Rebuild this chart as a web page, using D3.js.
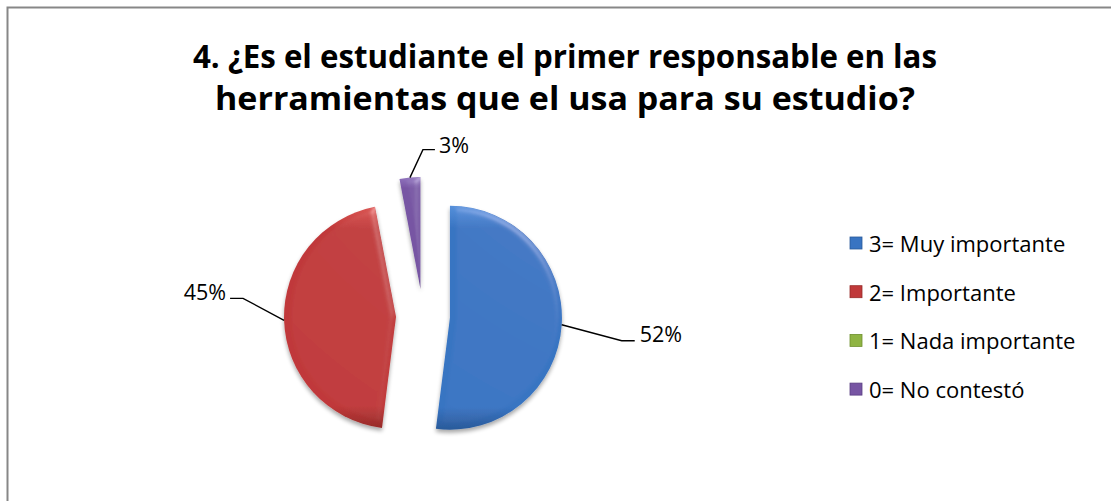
<!DOCTYPE html>
<html>
<head>
<meta charset="utf-8">
<script src="https://cdn.jsdelivr.net/npm/d3@7/dist/d3.min.js"></script>
<style>
  html, body { margin: 0; padding: 0; background: #fff; }
  svg { display: block; }
</style>
</head>
<body>
<svg id="chart" width="1111" height="501"></svg>
<script>
// ---- data ----
const titleLines = ["4. ¿Es el estudiante el primer responsable en las", "herramientas que el usa para su estudio?"];
const categories = ["3= Muy importante", "2= Importante", "1= Nada importante", "0= No contestó"];
const values = [52, 45, 0, 3];
const valueLabels = ["52%", "45%", "0%", "3%"];

// ---- styles ----
const baseColors = ["#3874C2", "#C0393A", "#8FB443", "#7755A3"];
const lightColors = ["#5690DA", "#D9524F", "#A9CB5E", "#9073BD"];
const darkColors = ["#2A5A9A", "#972B29", "#6E902E", "#5A3F82"];

const svg = d3.select("#chart");
const font = "'Open Sans', 'Liberation Sans', sans-serif";

// frame
svg.append("rect").attr("x", 7.5).attr("y", 7.5).attr("width", 1200).attr("height", 700)
  .attr("fill", "#fff").attr("stroke", "#878787").attr("stroke-width", 2);

const defs = svg.append("defs");
const f = defs.append("filter").attr("id", "bevel").attr("x", "-20%").attr("y", "-20%").attr("width", "140%").attr("height", "140%");
f.append("feGaussianBlur").attr("in", "SourceAlpha").attr("stdDeviation", 3).attr("result", "blur");
const spec = f.append("feSpecularLighting").attr("in", "blur").attr("surfaceScale", 3)
  .attr("specularConstant", 0.5).attr("specularExponent", 20).attr("lighting-color", "#ffffff").attr("result", "spec");
spec.append("fePointLight").attr("x", 300).attr("y", -400).attr("z", 300);
f.append("feComposite").attr("in", "spec").attr("in2", "SourceAlpha").attr("operator", "in").attr("result", "specOut");
f.append("feComposite").attr("in", "SourceGraphic").attr("in2", "specOut").attr("operator", "arithmetic")
  .attr("k1", 0).attr("k2", 1).attr("k3", 0.35).attr("k4", 0).attr("result", "lit");
f.append("feGaussianBlur").attr("in", "SourceAlpha").attr("stdDeviation", 2.2).attr("result", "sblur");
f.append("feOffset").attr("in", "sblur").attr("dx", 0).attr("dy", 3).attr("result", "soff");
f.append("feComponentTransfer").attr("in", "soff").attr("result", "sfade")
  .append("feFuncA").attr("type", "linear").attr("slope", 0.35);
const merge = f.append("feMerge");
merge.append("feMergeNode").attr("in", "sfade");
merge.append("feMergeNode").attr("in", "lit");

baseColors.forEach((c, i) => {
  const g = defs.append("linearGradient").attr("id", "grad" + i)
    .attr("x1", 0).attr("y1", 0).attr("x2", 0).attr("y2", 1);
  g.append("stop").attr("offset", "0%").attr("stop-color", lightColors[i]);
  g.append("stop").attr("offset", "10%").attr("stop-color", baseColors[i]);
  g.append("stop").attr("offset", "90%").attr("stop-color", baseColors[i]);
  g.append("stop").attr("offset", "100%").attr("stop-color", darkColors[i]);
});

// title
const title = svg.append("g").attr("font-family", font).attr("font-weight", "bold").attr("fill", "#000");
const titleY = [68, 110];
const titleW = [744, 700];
titleLines.forEach((t, i) => {
  const el = title.append("text").attr("x", 565).attr("y", titleY[i]).attr("text-anchor", "middle")
    .attr("font-size", 32).text(t);
  const w = el.node().getComputedTextLength();
  if (Math.abs(w - titleW[i]) > 2) el.attr("textLength", titleW[i]).attr("lengthAdjust", "spacingAndGlyphs");
});

// pie
const cx = 423, cy = 316, r = 112, explode = 27;
const pie = d3.pie().sort(null).value(d => d).startAngle(0).endAngle(2 * Math.PI);
const arcs = pie(values);
const arcGen = d3.arc().innerRadius(0).outerRadius(r);

const pieG = svg.append("g").attr("transform", `translate(${cx},${cy})`);
arcs.forEach((a, i) => {
  if (a.value <= 0) return;
  const mid = (a.startAngle + a.endAngle) / 2;
  const ox = Math.sin(mid) * explode, oy = -Math.cos(mid) * explode;
  pieG.append("path").attr("d", arcGen(a)).attr("transform", `translate(${ox},${oy})`)
    .attr("fill", `url(#grad${i})`).attr("filter", "url(#bevel)");
});

// leader lines and labels
const leader = [
  { ex: 60, ey: 16, hx: 13, tx: 5, ty: -7, anchor: "start" },
  { ex: -41, ey: -22, hx: -13, tx: -4, ty: -7, anchor: "end" },
  null,
  { ex: 13, ey: -28, hx: 12, tx: 4, ty: -5, anchor: "start" }
];
const labG = svg.append("g").attr("font-family", font).attr("font-size", 21.5);
arcs.forEach((a, i) => {
  if (a.value <= 0 || !leader[i]) return;
  const L = leader[i];
  const mid = (a.startAngle + a.endAngle) / 2;
  const px = cx + Math.sin(mid) * (r + explode), py = cy - Math.cos(mid) * (r + explode);
  const ex = px + L.ex, ey = py + L.ey;
  const hx = ex + L.hx;
  labG.append("polyline").attr("points", `${px},${py} ${ex},${ey} ${hx},${ey}`)
    .attr("fill", "none").attr("stroke", "#000").attr("stroke-width", 1.4);
  labG.append("text").attr("x", hx + L.tx).attr("y", ey + L.ty).attr("text-anchor", L.anchor)
    .attr("dominant-baseline", "central").attr("fill", "#000").text(valueLabels[i]);
});

// legend
const legG = svg.append("g").attr("font-family", font).attr("font-size", 22);
const legX = 850, legY0 = 243, legStep = 48.7, sq = 12;
categories.forEach((c, i) => {
  const y = legY0 + i * legStep;
  legG.append("rect").attr("x", legX).attr("y", y - sq / 2).attr("width", sq).attr("height", sq)
    .attr("fill", baseColors[i]).attr("stroke", darkColors[i]).attr("stroke-width", 0.8);
  legG.append("text").attr("x", legX + 19).attr("y", y).attr("dominant-baseline", "central")
    .attr("fill", "#000").text(c);
});
</script>
</body>
</html>
